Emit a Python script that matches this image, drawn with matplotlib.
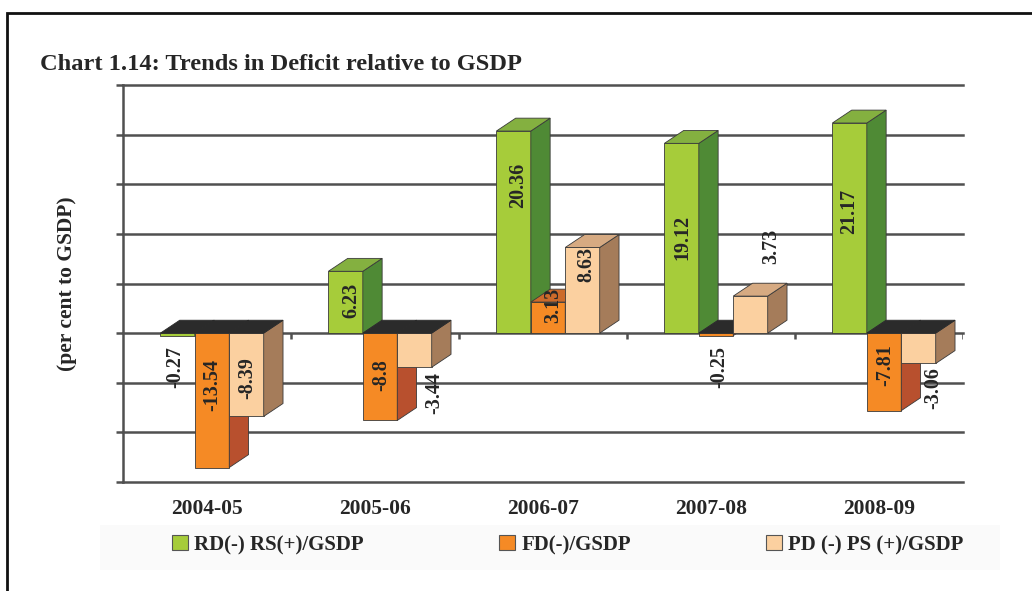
import numpy as np
import matplotlib.pyplot as plt
from matplotlib.patches import Polygon, Rectangle, Patch

years = ["2004-05", "2005-06", "2006-07", "2007-08", "2008-09"]
rd_rs = [-0.27, 6.23, 20.36, 19.12, 21.17]
fd = [-13.54, -8.8, 3.13, -0.25, -7.81]
pd_ps = [-8.39, -3.44, 8.63, 3.73, -3.06]
series_names = ["RD(-) RS(+)/GSDP", "FD(-)/GSDP", "PD (-) PS (+)/GSDP"]

plt.rcParams["font.family"] = ["Liberation Serif", "DejaVu Serif"]
plt.rcParams["font.weight"] = "bold"

fig = plt.figure(figsize=(10.32, 5.91), dpi=100)
W, H = 1032, 591
ax = fig.add_axes([123 / W, 1 - 482 / H, (963 - 123) / W, (482 - 85) / H])

# face colours: front, side, top
cols = [("#a6cc3a", "#4f8a35", "#84b040"),
        ("#f58a25", "#b8502e", "#cc6a2a"),
        ("#fbd0a0", "#a57c5a", "#d6aa82")]
neg_top = "#2b2b2b"
edge = "#3a3a3a"

offs = [-0.175, 0.03, 0.235]
bw = 0.205
dx, dy = 0.115, 1.3

ax.set_xlim(-0.5, 4.5)
ax.set_ylim(-15, 25)
for yv in np.arange(-15, 26, 5):
    ax.axhline(yv, color="#505050", lw=1.8, zorder=0, clip_on=False)

data = [rd_rs, fd, pd_ps]
x = np.arange(len(years))
z = 1
for i in range(len(years)):
    for s in range(3):
        v = data[s][i]
        xl = x[i] + offs[s] - bw / 2
        xr = xl + bw
        front, side, top = cols[s]
        ax.add_patch(Polygon([(xl, 0), (xr, 0), (xr, v), (xl, v)], closed=True,
                             fc=front, ec=edge, lw=0.6, zorder=z))
        ax.add_patch(Polygon([(xr, 0), (xr + dx, dy), (xr + dx, v + dy), (xr, v)],
                             closed=True, fc=side, ec=edge, lw=0.6, zorder=z))
        if v >= 0:
            ax.add_patch(Polygon([(xl, v), (xr, v), (xr + dx, v + dy), (xl + dx, v + dy)],
                                 closed=True, fc=top, ec=edge, lw=0.6, zorder=z))
        else:
            ax.add_patch(Polygon([(xl, 0), (xr, 0), (xr + dx, dy), (xl + dx, dy)],
                                 closed=True, fc=neg_top, ec=neg_top, lw=0.6, zorder=z))
        z += 1

# value labels (offset from category centre, height)
lab_pos = [
    [(-0.19, -3.4), (-0.14, 3.3), (-0.15, 14.9), (-0.17, 9.6), (-0.18, 12.3)],
    [(0.03, -5.2), (0.04, -4.2), (0.06, 2.8), (0.05, -3.4), (0.04, -3.2)],
    [(0.24, -4.5), (0.35, -6.0), (0.26, 6.9), (0.36, 8.7), (0.32, -5.5)],
]
for s in range(3):
    for i in range(len(years)):
        px, py = lab_pos[s][i]
        ax.text(x[i] + px, py, "{:g}".format(data[s][i]), rotation=90,
                ha="center", va="center", fontsize=14.5, color="#262626",
                fontweight="bold", zorder=100)

# small ticks on the zero line between categories
ax.vlines(np.arange(0.5, 5, 1), -0.6, 0, color="#505050", lw=1.8, zorder=0)

for sp in ["top", "right", "bottom"]:
    ax.spines[sp].set_visible(False)
ax.spines["left"].set_color("#505050")
ax.spines["left"].set_linewidth(1.8)
ax.set_yticks(np.arange(-15, 26, 5))
ax.tick_params(axis="y", length=5, width=1.8, color="#505050", labelleft=False)
ax.set_xticks(x)
ax.set_xticklabels(years, fontsize=15.5, fontweight="bold", color="#262626")
ax.tick_params(axis="x", length=0, pad=12)

ax.set_ylabel("(per cent to GSDP)", fontsize=15.5, fontweight="bold",
              color="#262626", labelpad=28)

fig.text(40 / W, 1 - 65 / H, "Chart 1.14: Trends in Deficit relative to GSDP",
         fontsize=17.6, fontweight="bold", color="#262626", va="center")

# faint band behind the legend
fig.patches.append(Rectangle((100 / W, 1 - 570 / H), 900 / W, 45 / H,
                             transform=fig.transFigure, fc="#fafafa", ec="none",
                             zorder=-1))

handles = [Patch(fc=cols[s][0], ec="#555555", lw=0.8) for s in range(3)]
fig.legend(handles, series_names, loc="center left",
           bbox_to_anchor=(164 / W, 1 - 545 / H), ncol=3, frameon=False,
           prop={"size": 15, "weight": "bold"}, handlelength=0.75,
           handleheight=0.75, handletextpad=0.3, columnspacing=6.5,
           labelcolor="#262626", borderaxespad=0)

# outer frame
fig.patches.append(Rectangle((7 / W, -0.1), 1.2, 1 - 13 / H + 0.1,
                             transform=fig.transFigure, fc="none", ec="#111111",
                             lw=2))

fig.savefig("out.png", dpi=100)
